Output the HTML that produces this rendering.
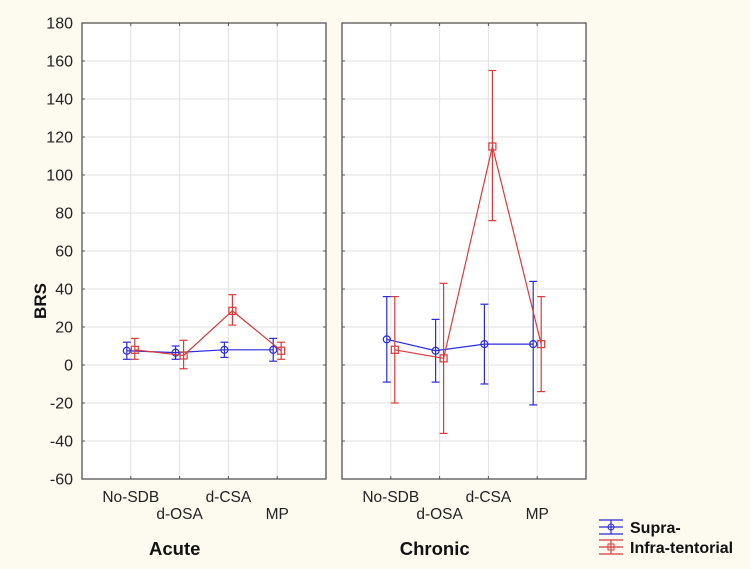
<!DOCTYPE html>
<html><head><meta charset="utf-8"><style>
html,body{margin:0;padding:0;background:#fdfaf0;}
svg{display:block;font-family:"Liberation Sans",Arial,sans-serif;}
</style></head><body>
<svg id="chart" width="750" height="569" viewBox="0 0 750 569"></svg>
<script>
const categories=["No-SDB","d-OSA","d-CSA","MP"];
const panels=["Acute","Chronic"];
const yTicks=[180,160,140,120,100,80,60,40,20,0,-20,-40,-60];
const supraMean=[[7.5,6.5,8,8],[13.5,7.5,11,11]];
const supraLow=[[3,3,4,2],[-9,-9,-10,-21]];
const supraHigh=[[12,10,12,14],[36,24,32,44]];
const infraMean=[[8,5,28.5,7.5],[8,3.5,115,11]];
const infraLow=[[3,-2,21,3],[-20,-36,76,-14]];
const infraHigh=[[14,13,37,12],[36,43,155,36]];

const NS="http://www.w3.org/2000/svg";
const svg=document.getElementById('chart');
function el(t,a,p){const e=document.createElementNS(NS,t);for(const k in a)e.setAttribute(k,a[k]);(p||svg).appendChild(e);return e;}
const yTop=23,yBot=479,yMin=-60,yMax=180;
const y=v=>yBot-(v-yMin)/(yMax-yMin)*(yBot-yTop);
const panelX=[82,342],panelW=244;
const x=(p,i)=>panelX[p]+panelW*(i+1)/5;

yTicks.forEach(t=>{const e=el('text',{x:73,y:y(t)+5.5,'text-anchor':'end','font-size':16,fill:'#222'});e.textContent=t;

});
const yl=el('text',{x:46,y:301,'font-size':17,'font-weight':'bold',fill:'#111','text-anchor':'middle',transform:'rotate(-90 46 301)'});yl.textContent='BRS';



panels.forEach((pn,p)=>{
  const g=el('g',{});
  
  
  el('rect',{x:panelX[p],y:yTop,width:panelW,height:yBot-yTop,fill:'#fff'},g);
  yTicks.forEach(t=>{if(t!==yMax&&t!==yMin)el('line',{x1:panelX[p],x2:panelX[p]+panelW,y1:y(t),y2:y(t),stroke:'#e2e2e2','stroke-width':1},g);
    el('line',{x1:panelX[p],x2:panelX[p]+3,y1:y(t),y2:y(t),stroke:'#555'},g);
    el('line',{x1:panelX[p]+panelW-3,x2:panelX[p]+panelW,y1:y(t),y2:y(t),stroke:'#555'},g);});
  categories.forEach((c,i)=>{
    el('line',{x1:x(p,i),x2:x(p,i),y1:yTop,y2:yBot,stroke:'#e2e2e2'},g);
    el('line',{x1:x(p,i),x2:x(p,i),y1:yTop,y2:yTop+3,stroke:'#555'},g);
    el('line',{x1:x(p,i),x2:x(p,i),y1:yBot-3,y2:yBot,stroke:'#555'},g);
    const tl=el('text',{x:x(p,i),y:i%2?519:502,'text-anchor':'middle','font-size':15.5,fill:'#222'},g);tl.textContent=c;
    
    
  });
  el('rect',{x:panelX[p],y:yTop,width:panelW,height:yBot-yTop,fill:'none',stroke:'#555','stroke-width':1.3},g);
  const tt=el('text',{x:panelX[p]+panelW*0.38,y:555,'text-anchor':'middle','font-size':18.5,'font-weight':'bold',fill:'#111'},g);tt.textContent=pn;
  
  

  const series=[[supraMean,supraLow,supraHigh,'#2b2bd8',-4,'circle'],[infraMean,infraLow,infraHigh,'#d83b3b',4,'square']];
  series.forEach(([m,lo,hi,col,off,sh])=>{
    const pts=categories.map((c,i)=>[x(p,i)+off,y(m[p][i])]);
    const pl=el('polyline',{points:pts.map(q=>q.join(',')).join(' '),fill:'none',stroke:col,'stroke-width':1.2},g);
    
    
    categories.forEach((c,i)=>{
      const cx=pts[i][0];
      el('line',{x1:cx,x2:cx,y1:y(lo[p][i]),y2:y(hi[p][i]),stroke:col,'stroke-width':1.2},g);
      el('line',{x1:cx-4,x2:cx+4,y1:y(lo[p][i]),y2:y(lo[p][i]),stroke:col,'stroke-width':1.2},g);
      el('line',{x1:cx-4,x2:cx+4,y1:y(hi[p][i]),y2:y(hi[p][i]),stroke:col,'stroke-width':1.2},g);
      let mk;
      if(sh==='circle')mk=el('circle',{cx:cx,cy:pts[i][1],r:3.5,fill:'none',stroke:col,'stroke-width':1.2},g);
      else mk=el('rect',{x:cx-3.5,y:pts[i][1]-3.5,width:7,height:7,fill:'none',stroke:col,'stroke-width':1.2},g);
      
      
    });
  });
});

[['Supra-','#2b2bd8','circle',527],['Infra-tentorial','#d83b3b','square',547]].forEach(([lab,col,sh,ly])=>{
  const g=el('g',{});
  
  
  el('line',{x1:599,x2:623,y1:ly,y2:ly,stroke:col,'stroke-width':1.2},g);
  el('line',{x1:599,x2:623,y1:ly-7,y2:ly-7,stroke:col,'stroke-width':1.2},g);
  el('line',{x1:599,x2:623,y1:ly+7,y2:ly+7,stroke:col,'stroke-width':1.2},g);
  el('line',{x1:611,x2:611,y1:ly-7,y2:ly+7,stroke:col,'stroke-width':1.2},g);
  if(sh==='circle')el('circle',{cx:611,cy:ly,r:3,fill:'none',stroke:col},g);
  else el('rect',{x:608,y:ly-3,width:6,height:6,fill:'none',stroke:col},g);
  const t=el('text',{x:630,y:ly+6,'font-size':16,'font-weight':'bold',fill:'#111'},g);t.textContent=lab;
});
</script>
</body></html>
